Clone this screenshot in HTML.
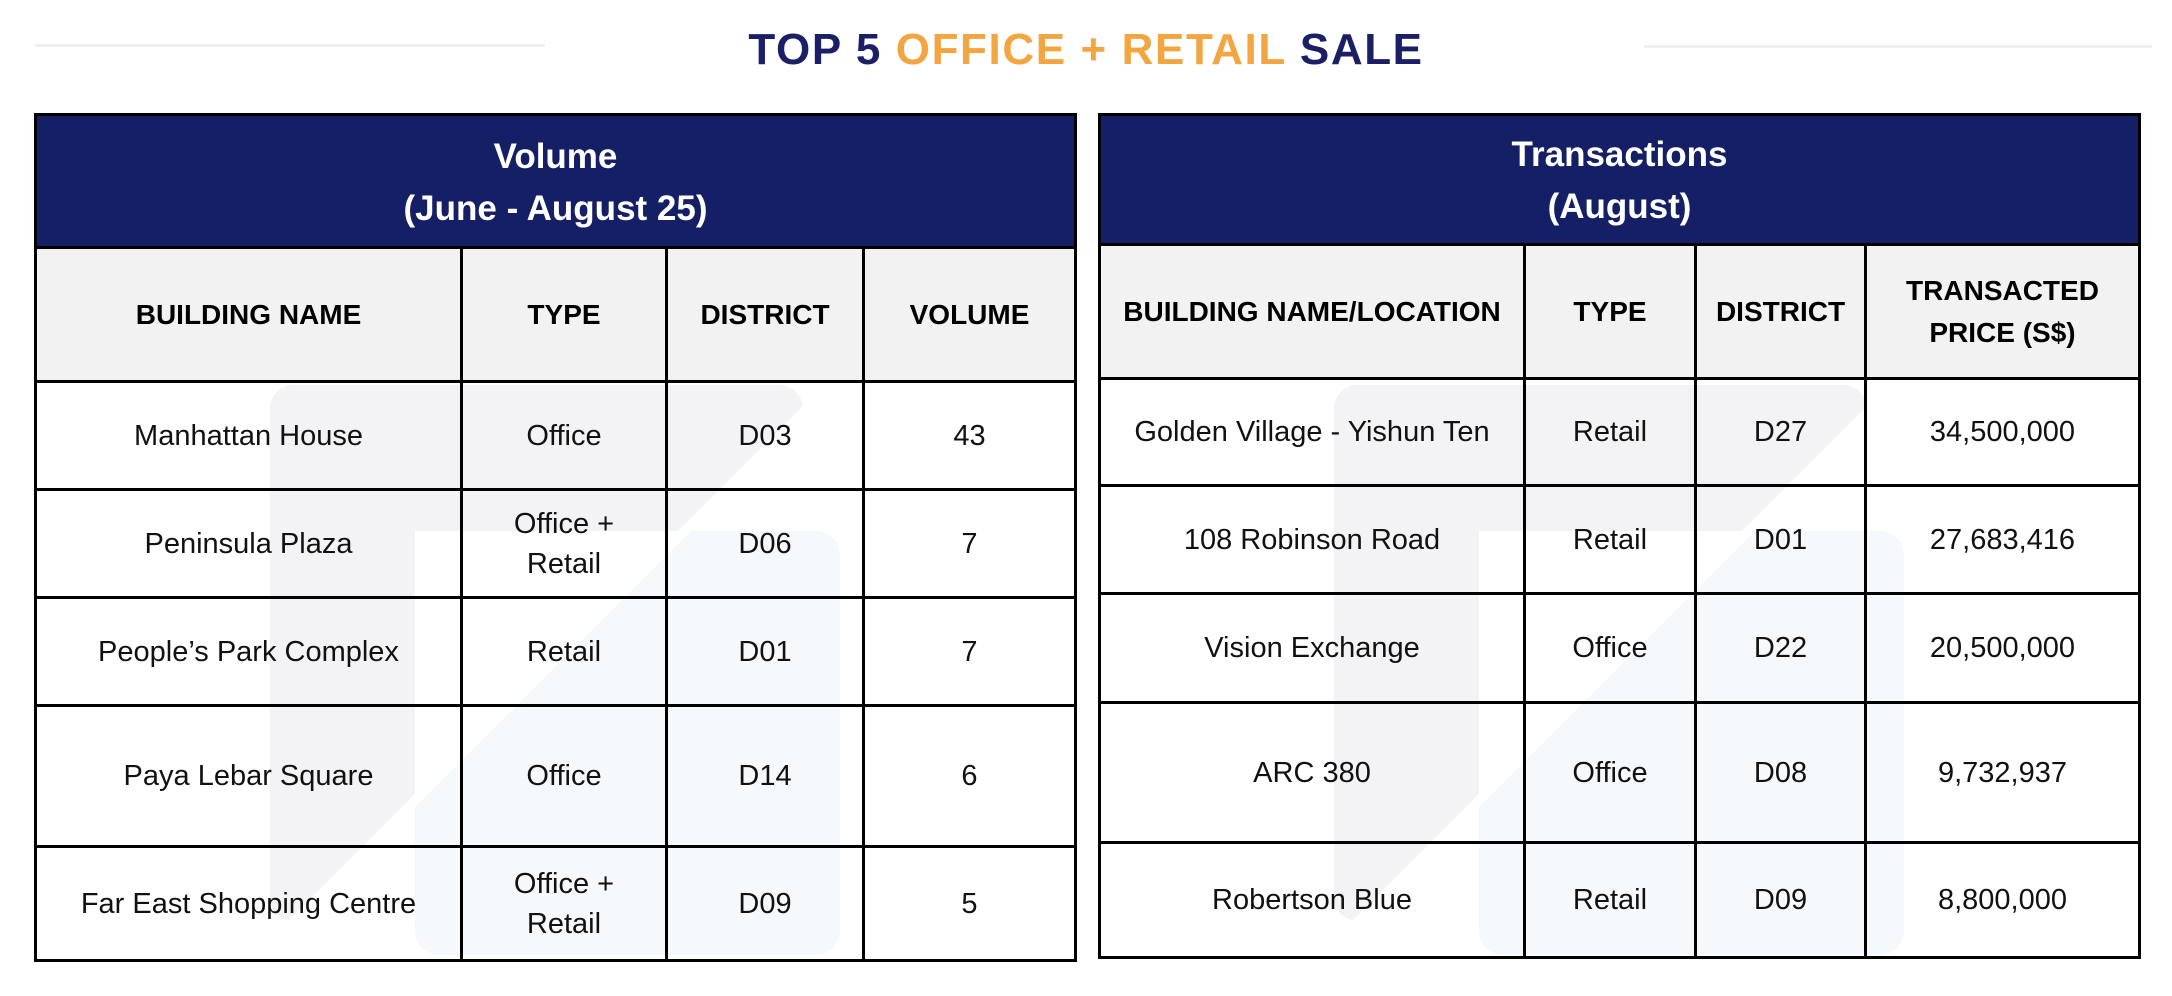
<!DOCTYPE html>
<html>
<head>
<meta charset="utf-8">
<style>
  html,body{margin:0;padding:0;}
  body{width:2172px;height:996px;position:relative;background:#fff;overflow:hidden;
       font-family:"Liberation Sans", Arial, sans-serif;}
  .abs{position:absolute;}
  .ln{position:absolute;background:#000;}
  .c{position:absolute;display:flex;align-items:center;justify-content:center;text-align:center;white-space:nowrap;color:#111;}
  .hd{color:#fff;font-weight:bold;font-size:35px;line-height:52px;}
  .ch{font-weight:bold;font-size:28px;line-height:42px;color:#000;}
  .bd{font-size:29px;line-height:40px;}
  .title{position:absolute;left:0;top:28px;width:2172px;height:44px;line-height:44px;text-align:center;
         font-weight:bold;font-size:44px;letter-spacing:1.6px;color:#1a1f66;white-space:nowrap;}
  .or{color:#f2a541;}
</style>
</head>
<body>

<!-- decorative lines -->
<div class="abs" style="left:35px;top:44px;width:510px;height:3px;background:#efefef;"></div>
<div class="abs" style="left:1644px;top:45px;width:508px;height:3px;background:#efefef;"></div>

<div class="title">TOP 5 <span class="or">OFFICE + RETAIL</span> SALE</div>

<!-- backgrounds -->
<div class="abs" style="left:34px;top:113px;width:1043px;height:136px;background:#151f65;"></div>
<div class="abs" style="left:34px;top:249px;width:1043px;height:132px;background:#f2f2f2;"></div>
<div class="abs" style="left:1098px;top:113px;width:1043px;height:133px;background:#151f65;"></div>
<div class="abs" style="left:1098px;top:246px;width:1043px;height:132px;background:#f2f2f2;"></div>

<!-- watermarks -->
<svg class="abs" style="left:0;top:0;" width="2172" height="996" viewBox="0 0 2172 996">
  <defs>
    <clipPath id="gL"><polygon points="0,0 1209,0 0,1209"/></clipPath>
    <clipPath id="bL"><polygon points="1222,0 1090,0 1090,996 226,996"/></clipPath>
    <clipPath id="gR"><polygon points="1090,0 2273,0 1090,1183"/></clipPath>
    <clipPath id="bR"><polygon points="2286,0 2172,0 2172,996 1290,996"/></clipPath>
  </defs>
  <g clip-path="url(#bL)">
    <rect x="415" y="531" width="425" height="424" rx="24" fill="#f5f9fc"/>
  </g>
  <g clip-path="url(#gL)" fill="#f3f3f5">
    <rect x="270" y="385" width="533" height="146" rx="24"/>
    <rect x="270" y="385" width="145" height="536" rx="24"/>
  </g>
  <g clip-path="url(#bR)">
    <rect x="1479" y="531" width="425" height="424" rx="24" fill="#f5f9fc"/>
  </g>
  <g clip-path="url(#gR)" fill="#f3f3f5">
    <rect x="1334" y="385" width="533" height="146" rx="24"/>
    <rect x="1334" y="385" width="145" height="536" rx="24"/>
  </g>
</svg>

<!-- LEFT TABLE LINES -->
<div class="ln" style="left:34px;top:113px;width:1043px;height:3px;"></div>
<div class="ln" style="left:34px;top:959px;width:1043px;height:3px;"></div>
<div class="ln" style="left:34px;top:113px;width:3px;height:849px;"></div>
<div class="ln" style="left:1074px;top:113px;width:3px;height:849px;"></div>
<div class="ln" style="left:34px;top:246px;width:1043px;height:3px;"></div>
<div class="ln" style="left:34px;top:380px;width:1043px;height:3px;"></div>
<div class="ln" style="left:34px;top:488px;width:1043px;height:3px;"></div>
<div class="ln" style="left:34px;top:596px;width:1043px;height:3px;"></div>
<div class="ln" style="left:34px;top:704px;width:1043px;height:3px;"></div>
<div class="ln" style="left:34px;top:845px;width:1043px;height:3px;"></div>
<div class="ln" style="left:460px;top:246px;width:3px;height:716px;"></div>
<div class="ln" style="left:665px;top:246px;width:3px;height:716px;"></div>
<div class="ln" style="left:862px;top:246px;width:3px;height:716px;"></div>

<!-- RIGHT TABLE LINES -->
<div class="ln" style="left:1098px;top:113px;width:1043px;height:3px;"></div>
<div class="ln" style="left:1098px;top:956px;width:1043px;height:3px;"></div>
<div class="ln" style="left:1098px;top:113px;width:3px;height:846px;"></div>
<div class="ln" style="left:2138px;top:113px;width:3px;height:846px;"></div>
<div class="ln" style="left:1098px;top:243px;width:1043px;height:3px;"></div>
<div class="ln" style="left:1098px;top:377px;width:1043px;height:3px;"></div>
<div class="ln" style="left:1098px;top:484px;width:1043px;height:3px;"></div>
<div class="ln" style="left:1098px;top:592px;width:1043px;height:3px;"></div>
<div class="ln" style="left:1098px;top:701px;width:1043px;height:3px;"></div>
<div class="ln" style="left:1098px;top:841px;width:1043px;height:3px;"></div>
<div class="ln" style="left:1523px;top:243px;width:3px;height:716px;"></div>
<div class="ln" style="left:1694px;top:243px;width:3px;height:716px;"></div>
<div class="ln" style="left:1864px;top:243px;width:3px;height:716px;"></div>

<!-- LEFT TABLE TEXT -->
<div class="c hd" style="left:37px;top:118px;width:1037px;height:130px;">Volume<br>(June - August 25)</div>

<div class="c ch" style="left:37px;top:249px;width:423px;height:131px;">BUILDING NAME</div>
<div class="c ch" style="left:463px;top:249px;width:202px;height:131px;">TYPE</div>
<div class="c ch" style="left:668px;top:249px;width:194px;height:131px;">DISTRICT</div>
<div class="c ch" style="left:865px;top:249px;width:209px;height:131px;">VOLUME</div>

<div class="c bd" style="left:37px;top:383px;width:423px;height:105px;">Manhattan House</div>
<div class="c bd" style="left:463px;top:383px;width:202px;height:105px;">Office</div>
<div class="c bd" style="left:668px;top:383px;width:194px;height:105px;">D03</div>
<div class="c bd" style="left:865px;top:383px;width:209px;height:105px;">43</div>

<div class="c bd" style="left:37px;top:491px;width:423px;height:105px;">Peninsula Plaza</div>
<div class="c bd" style="left:463px;top:491px;width:202px;height:105px;">Office +<br>Retail</div>
<div class="c bd" style="left:668px;top:491px;width:194px;height:105px;">D06</div>
<div class="c bd" style="left:865px;top:491px;width:209px;height:105px;">7</div>

<div class="c bd" style="left:37px;top:599px;width:423px;height:105px;">People’s Park Complex</div>
<div class="c bd" style="left:463px;top:599px;width:202px;height:105px;">Retail</div>
<div class="c bd" style="left:668px;top:599px;width:194px;height:105px;">D01</div>
<div class="c bd" style="left:865px;top:599px;width:209px;height:105px;">7</div>

<div class="c bd" style="left:37px;top:707px;width:423px;height:138px;">Paya Lebar Square</div>
<div class="c bd" style="left:463px;top:707px;width:202px;height:138px;">Office</div>
<div class="c bd" style="left:668px;top:707px;width:194px;height:138px;">D14</div>
<div class="c bd" style="left:865px;top:707px;width:209px;height:138px;">6</div>

<div class="c bd" style="left:37px;top:848px;width:423px;height:111px;">Far East Shopping Centre</div>
<div class="c bd" style="left:463px;top:848px;width:202px;height:111px;">Office +<br>Retail</div>
<div class="c bd" style="left:668px;top:848px;width:194px;height:111px;">D09</div>
<div class="c bd" style="left:865px;top:848px;width:209px;height:111px;">5</div>

<!-- RIGHT TABLE TEXT -->
<div class="c hd" style="left:1101px;top:117px;width:1037px;height:128px;">Transactions<br>(August)</div>

<div class="c ch" style="left:1101px;top:246px;width:422px;height:131px;">BUILDING NAME/LOCATION</div>
<div class="c ch" style="left:1526px;top:246px;width:168px;height:131px;">TYPE</div>
<div class="c ch" style="left:1697px;top:246px;width:167px;height:131px;">DISTRICT</div>
<div class="c ch" style="left:1867px;top:246px;width:271px;height:131px;">TRANSACTED<br>PRICE (S$)</div>

<div class="c bd" style="left:1101px;top:380px;width:422px;height:104px;">Golden Village - Yishun Ten</div>
<div class="c bd" style="left:1526px;top:380px;width:168px;height:104px;">Retail</div>
<div class="c bd" style="left:1697px;top:380px;width:167px;height:104px;">D27</div>
<div class="c bd" style="left:1867px;top:380px;width:271px;height:104px;">34,500,000</div>

<div class="c bd" style="left:1101px;top:487px;width:422px;height:105px;">108 Robinson Road</div>
<div class="c bd" style="left:1526px;top:487px;width:168px;height:105px;">Retail</div>
<div class="c bd" style="left:1697px;top:487px;width:167px;height:105px;">D01</div>
<div class="c bd" style="left:1867px;top:487px;width:271px;height:105px;">27,683,416</div>

<div class="c bd" style="left:1101px;top:595px;width:422px;height:106px;">Vision Exchange</div>
<div class="c bd" style="left:1526px;top:595px;width:168px;height:106px;">Office</div>
<div class="c bd" style="left:1697px;top:595px;width:167px;height:106px;">D22</div>
<div class="c bd" style="left:1867px;top:595px;width:271px;height:106px;">20,500,000</div>

<div class="c bd" style="left:1101px;top:704px;width:422px;height:137px;">ARC 380</div>
<div class="c bd" style="left:1526px;top:704px;width:168px;height:137px;">Office</div>
<div class="c bd" style="left:1697px;top:704px;width:167px;height:137px;">D08</div>
<div class="c bd" style="left:1867px;top:704px;width:271px;height:137px;">9,732,937</div>

<div class="c bd" style="left:1101px;top:844px;width:422px;height:112px;">Robertson Blue</div>
<div class="c bd" style="left:1526px;top:844px;width:168px;height:112px;">Retail</div>
<div class="c bd" style="left:1697px;top:844px;width:167px;height:112px;">D09</div>
<div class="c bd" style="left:1867px;top:844px;width:271px;height:112px;">8,800,000</div>

</body>
</html>
